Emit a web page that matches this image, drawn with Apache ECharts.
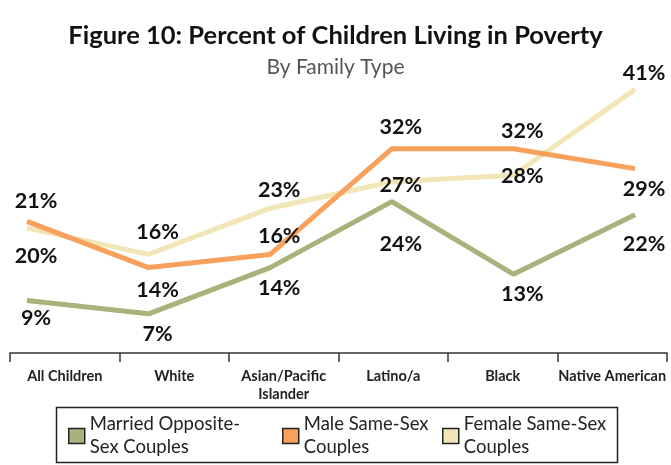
<!DOCTYPE html>
<html>
<head>
<meta charset="utf-8">
<script src="https://cdn.jsdelivr.net/npm/echarts@6/dist/echarts.min.js"></script>
<style>html,body{margin:0;padding:0;background:#fff;}#c{width:671px;height:465px;}</style>
</head>
<body>
<div id="c"></div>
<script>
const categories = ['All Children', 'White', 'Asian/Pacific\nIslander', 'Latino/a', 'Black', 'Native American'];
const seriesNames = ['Married Opposite-Sex Couples', 'Male Same-Sex Couples', 'Female Same-Sex Couples'];
const married = [9, 7, 14, 24, 13, 22];
const male = [21, 14, 16, 32, 32, 29];
const female = [20, 16, 23, 27, 28, 41];

// label placement (style only)
const marriedLabelPos = ['bottom', 'bottom', 'bottom', 'bottom', 'bottom', 'bottom'];
const marriedLabelDy = [-3, 0, 0, 22, 0, 9];
const maleLabelPos = ['top', 'bottom', 'top', 'top', 'top', 'bottom'];
const maleLabelDy = [0, 2, 2, -2, 2, 0];
const femaleLabelPos = ['bottom', 'top', 'top', 'inside', 'inside', 'top'];
const femaleLabelDy = [8, -2, 2, 2, 0, 4];

const colors = ['#a9b27a', '#f8a15c', '#f2e6b8'];
const legendText = {
  'Married Opposite-Sex Couples': 'Married Opposite-\nSex Couples',
  'Male Same-Sex Couples': 'Male Same-Sex\nCouples',
  'Female Same-Sex Couples': 'Female Same-Sex\nCouples'
};
const FONT = 'Lato';

function mk(vals, pos, dy) {
  return vals.map((v, i) => ({
    value: v,
    label: {
      position: pos[i],
      offset: [9, dy[i] + (pos[i] === 'inside' ? 1 : 0)]
    }
  }));
}

function lineSeries(name, vals, pos, dy, color, z) {
  return {
    name: name,
    type: 'line',
    xAxisIndex: 0,
    yAxisIndex: 0,
    data: mk(vals, pos, dy),
    symbol: 'circle',
    symbolSize: 0.1,
    z: z,
    lineStyle: { color: color, width: 5 },
    itemStyle: { color: color },
    label: {
      show: true,
      formatter: '{c}%',
      distance: 9,
      fontFamily: FONT,
      fontWeight: 'bold',
      fontSize: 21.5,
      color: '#111'
    },
    emphasis: { disabled: true },
    animation: false
  };
}

const chart = echarts.init(document.getElementById('c'), null, { renderer: 'canvas' });
chart.setOption({
  backgroundColor: '#fff',
  animation: false,
  title: [{
    text: 'Figure 10: Percent of Children Living in Poverty',
    left: 'center',
    top: 18,
    textStyle: { fontFamily: FONT, fontWeight: 'bold', fontSize: 25.5, color: '#111' }
  }, {
    text: 'By Family Type',
    left: 'center',
    top: 52,
    textStyle: { fontFamily: FONT, fontWeight: 'normal', fontSize: 21, color: '#555' }
  }],
  grid: [
    { left: 27, right: 36, top: 63, bottom: 105, containLabel: false },
    { left: 10, right: 4, top: 300, bottom: 465 - 353, containLabel: false }
  ],
  xAxis: [{
    type: 'category',
    gridIndex: 0,
    data: categories,
    boundaryGap: false,
    show: false
  }, {
    type: 'category',
    gridIndex: 1,
    data: categories,
    boundaryGap: true,
    position: 'bottom',
    axisLine: { show: true, lineStyle: { color: '#333', width: 1.5 } },
    axisTick: { show: true, length: 9, lineStyle: { color: '#333', width: 1.5 } },
    axisLabel: {
      interval: 0,
      margin: 14,
      fontFamily: FONT,
      fontWeight: 'bold',
      fontSize: 14.5,
      color: '#222',
      lineHeight: 18
    }
  }],
  yAxis: [{
    type: 'value',
    gridIndex: 0,
    min: 0,
    max: 45,
    show: false
  }, {
    type: 'value',
    gridIndex: 1,
    show: false
  }],
  legend: seriesNames.map((n, i) => ({
    data: [n],
    left: [68, 282, 442][i],
    top: 413,
    padding: 0,
    icon: 'rect',
    itemWidth: 16,
    itemHeight: 15,
    selectedMode: false,
    formatter: (name) => legendText[name],
    itemStyle: { borderColor: '#222', borderWidth: 1.5 },
    textStyle: { fontFamily: FONT, fontSize: 18.5, color: '#222', lineHeight: 23 }
  })),
  graphic: [{
    type: 'rect',
    shape: { x: 56.5, y: 407.5, width: 561, height: 55 },
    style: { fill: 'none', stroke: '#222', lineWidth: 1.5 },
    silent: true
  }],
  series: [
    lineSeries(seriesNames[2], female, femaleLabelPos, femaleLabelDy, colors[2], 2),
    lineSeries(seriesNames[1], male, maleLabelPos, maleLabelDy, colors[1], 3),
    lineSeries(seriesNames[0], married, marriedLabelPos, marriedLabelDy, colors[0], 4)
  ]
});
</script>
</body>
</html>
